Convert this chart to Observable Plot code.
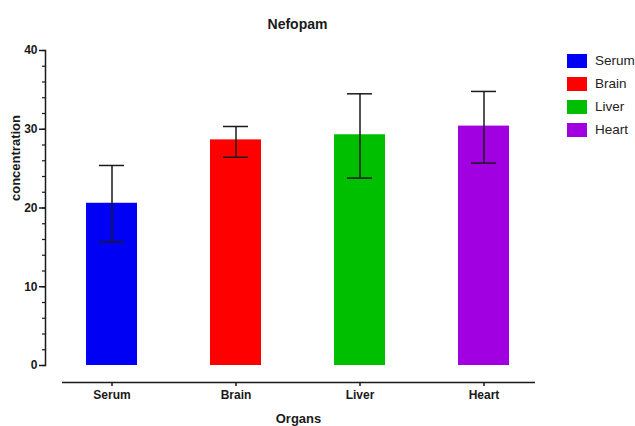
<!DOCTYPE html>
<html><head><meta charset="utf-8">
<script src="https://cdn.jsdelivr.net/npm/d3@7"></script>
<script src="https://cdn.jsdelivr.net/npm/@observablehq/plot@0.6"></script>
<style>
body{margin:0;background:#fff;font-family:"Liberation Sans",Arial,sans-serif;}
#wrap{position:relative;width:635px;height:426px;}
#legend{position:absolute;left:567px;top:49px;}
.item{display:flex;align-items:center;height:23px;font-size:13.5px;color:#222;}
.sw{width:20px;height:14px;margin-right:8px;}
</style></head><body><div id="wrap"><div id="legend"></div></div>
<script>
const organs = ["Serum", "Brain", "Liver", "Heart"];
const means = [20.6, 28.65, 29.3, 30.4];
const upper = [25.4, 30.35, 34.5, 34.8];
const lower = [15.7, 26.45, 23.8, 25.7];
const colors = ["#0000f5", "#ff0000", "#00bf00", "#a100e0"];
const yMajor = [0, 10, 20, 30, 40];
const yMinor = [0, 2, 4, 6, 8, 10, 12, 14, 16, 18, 20, 22, 24, 26, 28, 30, 32, 34, 36, 38, 40];
const title = "Nefopam";
const xTitle = "Organs";
const yTitle = "concentration";

const data = organs.map((o, i) => ({organ: o, mean: means[i], hi: upper[i], lo: lower[i]}));
const font = "Liberation Sans, Arial, sans-serif";
const ink = "#1a1a1a";

const plot = Plot.plot({
  width: 635, height: 426,
  marginTop: 50, marginBottom: 61, marginLeft: 45, marginRight: 100,
  style: {fontFamily: font, background: "#fff", color: ink},
  x: {domain: organs, range: [60, 535], paddingInner: 0.59, paddingOuter: 0.2, label: null},
  y: {domain: [0, 40], label: null},
  color: {domain: organs, range: colors},
  marks: [
    Plot.barY(data, {x: "organ", y: "mean", fill: "organ"}),
    Plot.ruleX(data, {x: "organ", y1: "lo", y2: "hi", stroke: ink, strokeWidth: 1.5}),
    Plot.tickY(data, {x: "organ", y: "hi", stroke: ink, strokeWidth: 1.5, insetLeft: 13, insetRight: 13}),
    Plot.tickY(data, {x: "organ", y: "lo", stroke: ink, strokeWidth: 1.5, insetLeft: 13, insetRight: 13}),
    Plot.frame({anchor: "left", stroke: ink, strokeWidth: 1.5}),
    Plot.axisY({ticks: yMinor, tickSize: 3, tickFormat: () => "", stroke: ink, strokeWidth: 1.2, label: null}),
    Plot.axisY({ticks: yMajor, tickSize: 6, tickPadding: 2, fontSize: 12, fontWeight: "bold", stroke: ink, strokeWidth: 1.5, label: null}),
    Plot.ruleY([0], {dy: 17, insetLeft: 17, stroke: ink, strokeWidth: 1.5}),
    Plot.axisX({tickSize: 4, tickPadding: 4, dy: 17, fontSize: 12, fontWeight: "bold", stroke: ink, strokeWidth: 1.5, label: null}),
    Plot.text([title], {text: d => d, frameAnchor: "top", dy: -31, dx: 7, fontSize: 14, fontWeight: "bold", fill: ink}),
    Plot.text([xTitle], {text: d => d, frameAnchor: "bottom", dy: 57, dx: 8, fontSize: 13, fontWeight: "bold", fill: ink}),
    Plot.text([yTitle], {text: d => d, frameAnchor: "left", dx: -30, dy: -7, rotate: -90, fontSize: 13, fontWeight: "bold", fill: ink})
  ]
});
const wrap = document.getElementById("wrap");
wrap.insertBefore(plot, wrap.firstChild);

const color = plot.scale("color");
const legend = d3.select("#legend");
const items = legend.selectAll(".item").data(color.domain).join("div").attr("class", "item");
items.append("div").attr("class", "sw").style("background", (d, i) => color.range[i]);
items.append("span").text(d => d);
</script></body></html>
